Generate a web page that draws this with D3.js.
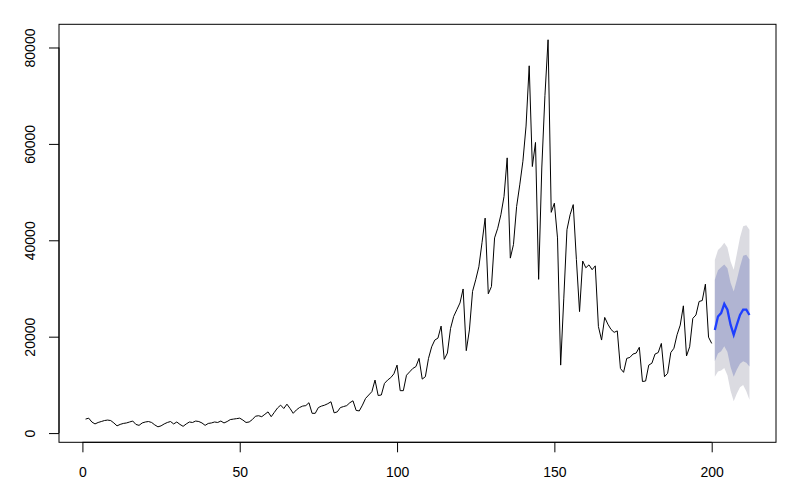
<!DOCTYPE html>
<html>
<head>
  <meta charset="utf-8">
  <script src="https://d3js.org/d3.v7.min.js"></script>
  <style>
    body { margin: 0; background: #fff; }
    svg text { font-family: "Liberation Sans", Arial, sans-serif; font-size: 14px; fill: #000; }
  </style>
</head>
<body>
<svg width="795" height="485"></svg>
<script>
// observed series, t = 1..200
var observed = [
  2900, 3100, 2300, 1900, 2200, 2400, 2600, 2700, 2600, 2100,
  1500, 1800, 2000, 2100, 2300, 2500, 1800, 1600, 2100, 2300,
  2400, 2200, 1700, 1300, 1500, 1900, 2200, 2400, 1900, 2300,
  1800, 1400, 1900, 2300, 2200, 2500, 2400, 2100, 1600, 2000,
  2100, 2300, 2200, 2500, 2100, 2400, 2800, 2900, 3000, 3100,
  2700, 2200, 2300, 2800, 3500, 3600, 3400, 3900, 4400, 3400,
  4300, 5200, 5800, 5100, 6000, 5100, 4100, 4800, 5300, 5600,
  5700, 6300, 4100, 4100, 5300, 5600, 5800, 6100, 6500, 4200,
  4400, 5300, 5500, 5700, 6300, 6700, 4700, 4600, 5800, 7200,
  7900, 8600, 11000, 7800, 7900, 10300, 11000, 11500, 12300, 14100,
  8800, 8800, 12000, 12700, 13400, 13800, 15500, 11200, 11700, 15500,
  17900, 19300, 19700, 22200, 15300, 16600, 21700, 24200, 25600, 27000,
  29900, 17100, 21400, 29400, 31800, 34500, 39500, 44600, 28900, 30400,
  40500, 42500, 45300, 49100, 57100, 36300, 39100, 47000, 51500, 56400,
  63700, 76200, 55300, 60300, 31900, 55000, 70000, 81600, 45800, 47700,
  40500, 14100, 28000, 42200, 45300, 47400, 36000, 25200, 35700, 34300,
  34900, 33900, 34700, 22100, 19300, 24000, 22600, 21500, 20900, 21200,
  13400, 12600, 15500, 15700, 16400, 16600, 17800, 10700, 10800, 14100,
  14500, 16400, 16700, 18600, 11700, 12400, 16700, 17600, 20400, 22400,
  26400, 16000, 17900, 23800, 24500, 27300, 27500, 30900, 19900, 18600
];

// forecast, t = 201..212
var fcMean  = [21400, 24200, 24900, 26800, 25600, 22500, 20400, 22500, 24500, 25600, 25600, 24500];
var fcLo80  = [14900, 16500, 17000, 18000, 16800, 13700, 11700, 13200, 14400, 14900, 14600, 13800];
var fcHi80  = [31800, 33800, 34400, 35000, 34200, 31200, 29400, 31800, 34500, 36800, 37000, 36000];
var fcLo95  = [11700, 12800, 13000, 13500, 12000, 8800, 6600, 8200, 9500, 10000, 8700, 6900];
var fcHi95  = [35900, 38000, 38600, 39500, 38500, 35600, 33900, 37200, 40600, 42900, 43100, 42200];

var xTicks = [0, 50, 100, 150, 200];
var yTicks = [0, 20000, 40000, 60000, 80000];

var svg = d3.select("svg");
var plot = {left: 59, right: 776, top: 24.3, bottom: 442.3};

var obs = observed.map(function(v, i) { return {t: i + 1, v: v}; });
var fc = fcMean.map(function(v, i) {
  return {t: 201 + i, mean: v, lo80: fcLo80[i], hi80: fcHi80[i], lo95: fcLo95[i], hi95: fcHi95[i]};
});

// R style: data range extended by 4% on each side
var tMin = 1, tMax = 200 + fc.length;
var vMin = d3.min([d3.min(observed), d3.min(fcLo95)]);
var vMax = d3.max([d3.max(observed), d3.max(fcHi95)]);
var tPad = (tMax - tMin) * 0.04, vPad = (vMax - vMin) * 0.04;

var x = d3.scaleLinear().domain([tMin - tPad, tMax + tPad]).range([plot.left, plot.right]);
var y = d3.scaleLinear().domain([vMin - vPad, vMax + vPad]).range([plot.bottom, plot.top]);

// prediction intervals
var band = function(lo, hi) {
  return d3.area().x(function(d) { return x(d.t); })
    .y0(function(d) { return y(d[lo]); })
    .y1(function(d) { return y(d[hi]); });
};
svg.append("path").datum(fc).attr("d", band("lo95", "hi95")).attr("fill", "#dbdbe1");
svg.append("path").datum(fc).attr("d", band("lo80", "hi80")).attr("fill", "#b0b4d2");

// observed line
svg.append("path").datum(obs)
  .attr("d", d3.line().x(function(d) { return x(d.t); }).y(function(d) { return y(d.v); }))
  .attr("fill", "none").attr("stroke", "#000").attr("stroke-width", 1);

// forecast mean
svg.append("path").datum(fc)
  .attr("d", d3.line().x(function(d) { return x(d.t); }).y(function(d) { return y(d.mean); }))
  .attr("fill", "none").attr("stroke", "#1e3fff").attr("stroke-width", 2.3);

// box
svg.append("rect")
  .attr("x", plot.left).attr("y", plot.top)
  .attr("width", plot.right - plot.left).attr("height", plot.bottom - plot.top)
  .attr("fill", "none").attr("stroke", "#000").attr("stroke-width", 1);

// x axis
var gx = svg.append("g").attr("transform", "translate(0," + plot.bottom + ")")
  .call(d3.axisBottom(x).tickValues(xTicks).tickSize(10).tickFormat(d3.format("d")));
gx.select(".domain").remove();
gx.append("line").attr("x1", x(xTicks[0])).attr("x2", x(xTicks[xTicks.length - 1]))
  .attr("stroke", "#000");
gx.selectAll(".tick text").attr("y", 35).attr("dy", null)
  .style("font-size", "14px").style("font-family", "Liberation Sans, Arial, sans-serif").attr("fill", "#000");

// y axis
var gy = svg.append("g").attr("transform", "translate(" + plot.left + ",0)")
  .call(d3.axisLeft(y).tickValues(yTicks).tickSize(10).tickFormat(d3.format("d")));
gy.select(".domain").remove();
gy.append("line").attr("y1", y(yTicks[0])).attr("y2", y(yTicks[yTicks.length - 1]))
  .attr("stroke", "#000");
gy.selectAll(".tick text")
  .attr("x", null).attr("dy", null)
  .attr("transform", "translate(-24.5,0) rotate(-90)")
  .attr("text-anchor", "middle")
  .style("font-size", "14px").style("font-family", "Liberation Sans, Arial, sans-serif").attr("fill", "#000");
</script>
</body>
</html>
